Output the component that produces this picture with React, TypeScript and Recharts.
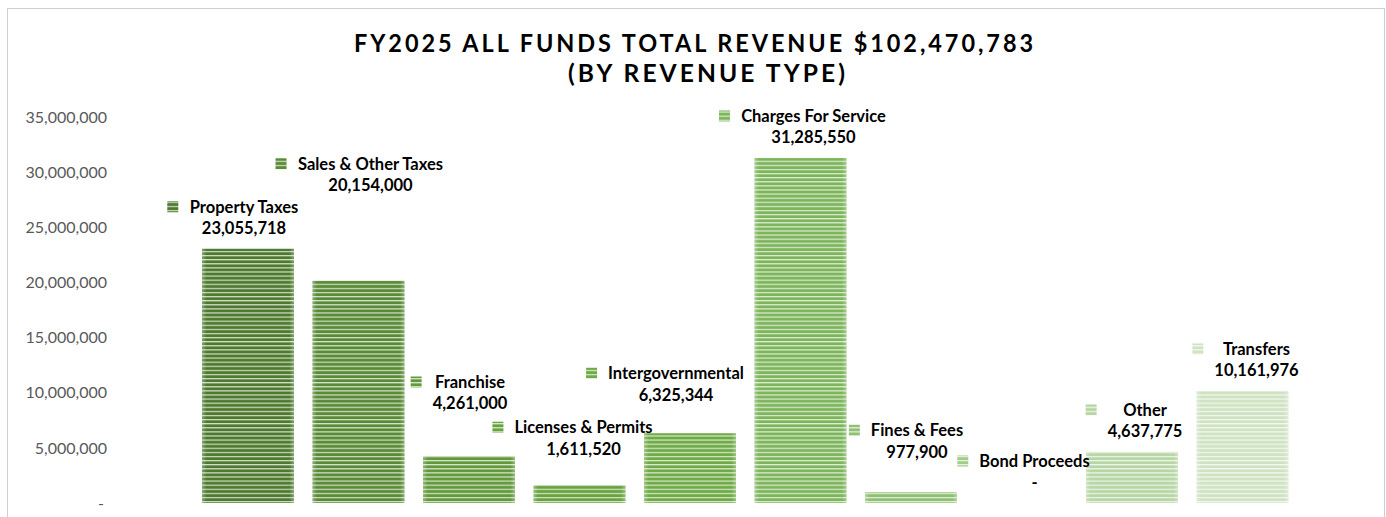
import React from 'react';
import { BarChart, Bar, XAxis, YAxis, Cell, LabelList } from 'recharts';

const categories = [
  'Property Taxes',
  'Sales & Other Taxes',
  'Franchise',
  'Licenses & Permits',
  'Intergovernmental',
  'Charges For Service',
  'Fines & Fees',
  'Bond Proceeds',
  'Other',
  'Transfers',
];
const revenue = [23055718, 20154000, 4261000, 1611520, 6325344, 31285550, 977900, 0, 4637775, 10161976];
const yTicks = [0, 5000000, 10000000, 15000000, 20000000, 25000000, 30000000, 35000000];
const titleLine1 = 'FY2025 ALL FUNDS TOTAL REVENUE $102,470,783';
const titleLine2 = '(BY REVENUE TYPE)';

// styling (kept separate from the data)
const barColors = ['#4e7a2e', '#598a35', '#62993b', '#68a33f', '#6eaa45', '#7db55b', '#8fc073', '#a2ca8b', '#b8d6a5', '#cfe3c3'];
// manual label placement tweaks (horizontal shift, extra upward shift)
const labelShiftX = [-4, 12, 1, 4, -14, 13, 6, 13, 13, 14];
const labelShiftUp = [0, 75, 32, 16, 18, 0, 20, 0, 0, 0];

const data = categories.map((name, i) => ({ name, value: revenue[i] }));

const FONT = 'Lato, "Open Sans", sans-serif';
const LABEL_SIZE = 16.5;

let measureCtx: CanvasRenderingContext2D | null = null;
const measure = (t: string) => {
  if (!measureCtx) measureCtx = document.createElement('canvas').getContext('2d');
  if (!measureCtx) return t.length * 8;
  measureCtx.font = `bold ${LABEL_SIZE}px Lato`;
  return measureCtx.measureText(t).width;
};

const fmt = (v: number) => (v === 0 ? '-' : v.toLocaleString('en-US'));

const YTick = (props: any) => {
  const { y, payload } = props;
  const v = payload.value as number;
  return (
    <text x={v === 0 ? 96 : 99} y={y} dy="0.36em" textAnchor="end" fill="#595959" fontFamily={FONT} fontSize={16}>
      {fmt(v)}
    </text>
  );
};

const BarShape = (props: any) => {
  const { x, y, width, height, fill } = props;
  if (!height || height <= 0) return <g />;
  return (
    <g>
      <rect x={x} y={y} width={width} height={height} fill={fill} />
      <rect x={x} y={y} width={width} height={height} fill="url(#edgeShade)" />
    </g>
  );
};

const BarLabel = (props: any) => {
  const { x, y, width, index, value } = props;
  const name = categories[index];
  const valText = fmt(value);
  const cx = x + width / 2 + labelShiftX[index];
  const nameY = y - 42 - labelShiftUp[index];
  const valY = nameY + 21.5;
  const w = Math.max(measure(name), measure(valText));
  const left = cx - w / 2;
  return (
    <g>
      <rect x={left - 22} y={nameY - 5.5} width={11} height={11} fill={`url(#pat${index})`} />
      <text x={cx} y={nameY} dy="0.36em" textAnchor="middle" fontFamily={FONT} fontWeight={700} fontSize={LABEL_SIZE} fill="#000">
        {name}
      </text>
      <text x={cx} y={valY} dy="0.36em" textAnchor="middle" fontFamily={FONT} fontWeight={700} fontSize={LABEL_SIZE} fill="#000">
        {valText}
      </text>
    </g>
  );
};

export default function App() {
  return (
    <div style={{ position: 'absolute', left: 7, top: 8, width: 1378, height: 509, overflow: 'hidden' }}>
      <div
        style={{
          position: 'relative',
          width: 1378,
          height: 540,
          border: '1px solid #cfcfcf',
          boxSizing: 'border-box',
          background: '#fff',
        }}
      >
        <svg width={1376} height={100} style={{ position: 'absolute', left: 0, top: 0 }}>
          <text
            x={346}
            y={43}
            textLength={682}
            lengthAdjust="spacingAndGlyphs"
            fontFamily={FONT}
            fontWeight={700}
            fontSize={24}
            letterSpacing={3}
            fill="#000"
          >
            {titleLine1}
          </text>
          <text
            x={560}
            y={73}
            textLength={280}
            lengthAdjust="spacingAndGlyphs"
            fontFamily={FONT}
            fontWeight={700}
            fontSize={24}
            letterSpacing={3}
            fill="#000"
          >
            {titleLine2}
          </text>
        </svg>
        <div style={{ position: 'absolute', left: 0, top: 0 }}>
          <BarChart width={1376} height={520} data={data} margin={{ top: 108, right: 86, bottom: 26, left: 85 }} barSize={92}>
            <defs>
              {barColors.map((c, i) => (
                <pattern key={i} id={`pat${i}`} patternUnits="userSpaceOnUse" width={10} height={4.1}>
                  <rect x={0} y={0} width={10} height={4.1} fill={c} />
                  <rect x={0} y={0} width={10} height={1.2} fill="#ffffff" fillOpacity={0.75} />
                </pattern>
              ))}
              <linearGradient id="edgeShade" x1="0" y1="0" x2="1" y2="0">
                <stop offset="0%" stopColor="#ffffff" stopOpacity={0.3} />
                <stop offset="5%" stopColor="#ffffff" stopOpacity={0} />
                <stop offset="95%" stopColor="#ffffff" stopOpacity={0} />
                <stop offset="100%" stopColor="#ffffff" stopOpacity={0.3} />
              </linearGradient>
            </defs>
            <XAxis dataKey="name" hide />
            <YAxis
              width={100}
              domain={[0, 35000000]}
              ticks={yTicks}
              axisLine={false}
              tickLine={false}
              tick={<YTick />}
              interval={0}
            />
            <Bar dataKey="value" isAnimationActive={false} shape={<BarShape />}>
              {data.map((d, i) => (
                <Cell key={d.name} fill={`url(#pat${i})`} />
              ))}
              <LabelList dataKey="value" content={<BarLabel />} />
            </Bar>
          </BarChart>
        </div>
      </div>
    </div>
  );
}
